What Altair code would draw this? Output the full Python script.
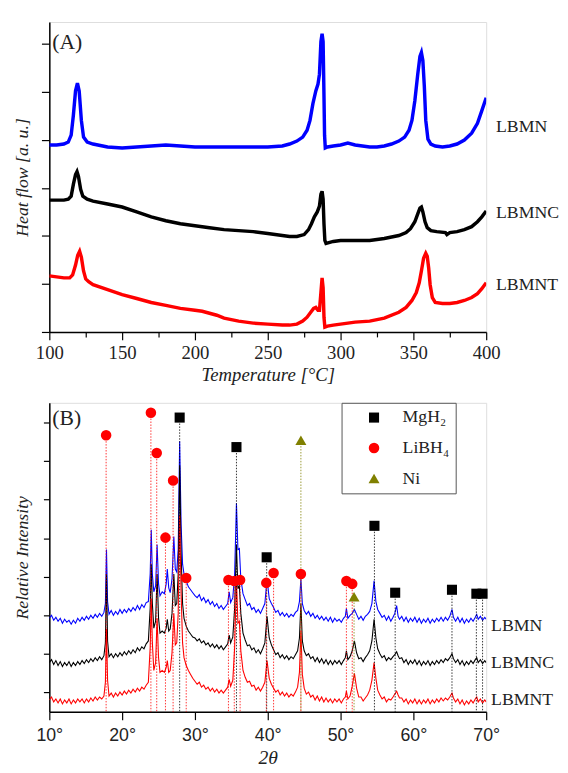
import altair as alt
import pandas as pd

# ---------------- Panel A : DSC curves (temperature °C, heat flow a.u.) ----------------
DSC_LBMN = [(100,190),(105,190),(110,191),(113,193),(115,200),(116.5,220),(118,245),(119.3,253),(120.5,245),
            (122,215),(123.5,198),(126,193),(130,191),(140,188),(150,187),(160,188),(170,189),(180,190),(190,189),
            (200,188),(210,188),(220,188),(230,188),(240,188),(250,188),(260,189),(265,191),(270,194),(274,198),
            (277,205),(279,215),(281,232),(283,245),(284.5,252),(285.5,262),(286.5,295),(287.3,303),(288,295),
            (288.6,240),(289,200),(289.5,187),(291,188),(295,189),(300,190),(305,192),(310,190),(315,189),(320,188),
            (325,188),(330,189),(335,191),(340,194),(344,198),(347,205),(349,215),(351,235),(353,262),(354.5,280),
            (355.5,284),(356.5,276),(357.5,250),(358.5,215),(360,196),(362,191),(365,189),(370,188),(375,189),
            (380,191),(385,195),(390,202),(394,212),(397,225),(400,238)]
DSC_LBMNC = [(100,134),(105,134),(110,134),(113,135),(115,138),(116.5,150),(118,160),(119,163),(120,158),(121.5,145),
             (123,138),(126,135),(130,133),(140,130),(150,127),(160,122),(170,117),(180,113),(190,110),(200,108),
             (210,106),(220,104),(230,103),(240,102),(250,100),(260,98),(265,97),(270,97),(275,99),(278,104),
             (280,110),(282,117),(284,122),(285.5,128),(286.5,140),(287.3,143),(288,135),(288.6,110),(289.2,93),
             (290,90),(295,92),(300,93),(310,93),(320,93),(330,95),(340,98),(345,101),(348,105),(351,112),(353,120),
             (354.5,126),(355.5,127),(356.5,122),(358,112),(359.5,106),(362,103),(366,102),(372,101),(373,99),
             (375,101),(380,102),(385,104),(390,107),(394,112),(397,117),(400,123)]
DSC_LBMNT = [(100,57),(105,56),(110,55),(114,55),(116,58),(118,68),(119.5,78),(120.8,82),(122,76),(123.5,62),
             (125,54),(127,51),(130,48),(140,43),(150,38),(160,34),(170,30),(180,27),(190,24),(200,22),(205,21),
             (210,19),(215,17),(220,14),(230,11),(240,9),(250,8),(260,7),(265,7),(270,8),(274,11),(277,15),
             (279.5,20),(281.5,24),(283,25),(284.5,22),(285.5,22),(286.5,40),(287.3,55),(288,45),(288.6,15),
             (289.2,5),(291,6),(295,7),(300,8),(310,10),(320,11),(330,14),(340,20),(345,25),(349,32),(352,40),
             (354,50),(355.5,62),(357,75),(358.5,80),(359.5,77),(360.5,65),(361.5,48),(363,35),(365,30),(370,29),
             (375,29),(380,30),(385,32),(390,35),(394,39),(397,44),(400,50)]
DSC_NAMES = ["LBMN", "LBMNC", "LBMNT"]
DSC_LABEL_LEVEL = [208, 121, 48]

# ---------------- Panel B : XRD patterns (2θ, relative intensity) ----------------
XRD_LBMN = [(10.0,95),(10.3,98),(10.6,93),(10.9,96),(11.2,92),(11.5,95),(11.8,90),(12.1,94),(12.4,91),(12.7,93),
            (13.0,89),(13.3,93),(13.6,90),(13.9,95),(14.2,92),(14.5,96),(14.8,93),(15.1,97),(15.4,94),(15.7,98),
            (16.0,95),(16.3,99),(16.6,96),(16.9,100),(17.2,97),(17.5,101),(17.7,110),(17.85,165),(18.0,112),
            (18.2,99),(18.5,103),(18.8,98),(19.1,102),(19.4,99),(19.7,104),(20.0,100),(20.3,104),(20.6,101),
            (20.9,105),(21.2,102),(21.5,106),(21.8,103),(22.1,108),(22.4,104),(22.7,109),(23.0,106),(23.3,111),
            (23.6,112),(23.85,140),(24.0,185),(24.15,140),(24.35,122),(24.6,128),(24.8,170),(25.0,130),(25.2,118),
            (25.5,122),(25.8,120),(26.05,130),(26.2,145),(26.4,126),(26.6,121),(26.85,135),(27.1,178),(27.3,145),
            (27.5,142),(27.7,165),(27.9,275),(28.1,190),(28.3,150),(28.5,140),(28.8,133),(29.1,127),(29.4,124),
            (29.7,121),(30.0,118),(30.3,116),(30.6,119),(30.9,113),(31.2,116),(31.5,111),(31.8,114),(32.1,109),
            (32.4,112),(32.7,107),(33.0,110),(33.3,105),(33.6,108),(33.9,104),(34.2,107),(34.5,110),(34.7,122),
            (34.9,111),(35.2,116),(35.45,140),(35.7,212),(35.9,165),(36.1,166),(36.3,135),(36.6,120),(36.9,114),
            (37.2,108),(37.5,110),(37.8,104),(38.1,106),(38.4,101),(38.7,104),(39.0,100),(39.3,105),(39.6,110),
            (39.9,135),(40.2,115),(40.5,110),(40.8,106),(41.1,101),(41.4,103),(41.7,98),(42.0,101),(42.3,97),
            (42.6,100),(42.9,96),(43.2,99),(43.5,97),(43.8,101),(44.1,103),(44.35,112),(44.55,135),(44.75,110),
            (45.0,103),(45.3,99),(45.6,102),(45.9,97),(46.2,100),(46.5,95),(46.8,98),(47.1,94),(47.4,97),(47.7,93),
            (48.0,96),(48.3,92),(48.6,96),(48.9,91),(49.2,95),(49.5,92),(49.8,94),(50.1,91),(50.4,95),(50.65,97),
            (50.8,105),(51.0,95),(51.3,98),(51.6,100),(51.9,104),(52.2,99),(52.5,94),(52.8,97),(53.1,93),(53.4,97),
            (53.7,99),(54.0,102),(54.3,110),(54.6,133),(54.85,112),(55.1,104),(55.4,100),(55.7,96),(56.0,98),
            (56.3,93),(56.6,97),(56.9,92),(57.2,96),(57.45,100),(57.7,108),(57.9,97),(58.1,94),(58.4,97),(58.7,92),
            (59.0,96),(59.3,91),(59.6,95),(59.9,92),(60.2,96),(60.5,91),(60.8,95),(61.1,90),(61.4,94),(61.7,91),
            (62.0,95),(62.3,90),(62.6,94),(62.9,91),(63.2,95),(63.5,92),(63.8,96),(64.1,92),(64.4,96),(64.7,93),
            (65.0,97),(65.3,104),(65.5,96),(65.8,92),(66.1,96),(66.4,91),(66.7,95),(67.0,90),(67.3,94),(67.6,91),
            (67.9,95),(68.2,92),(68.5,96),(68.7,99),(68.9,94),(69.2,97),(69.5,93),(69.8,96),(70.0,94)]
XRD_LBMNC = [(10.0,50),(10.3,53),(10.6,48),(10.9,52),(11.2,47),(11.5,51),(11.8,46),(12.1,50),(12.4,47),(12.7,51),
             (13.0,46),(13.3,50),(13.6,47),(13.9,51),(14.2,48),(14.5,52),(14.8,49),(15.1,53),(15.4,50),(15.7,54),
             (16.0,51),(16.3,55),(16.6,52),(16.9,56),(17.2,53),(17.5,57),(17.7,70),(17.85,140),(18.0,72),(18.2,56),
             (18.5,59),(18.8,55),(19.1,59),(19.4,56),(19.7,60),(20.0,57),(20.3,61),(20.6,58),(20.9,62),(21.2,59),
             (21.5,63),(21.8,60),(22.1,65),(22.4,62),(22.7,66),(23.0,64),(23.3,69),(23.6,72),(23.85,105),(24.0,150),
             (24.15,110),(24.35,85),(24.6,92),(24.8,140),(25.0,95),(25.2,80),(25.5,82),(25.8,80),(26.05,85),
             (26.2,94),(26.4,82),(26.6,84),(26.85,100),(27.1,140),(27.3,108),(27.5,110),(27.7,140),(27.9,250),
             (28.1,160),(28.3,110),(28.5,95),(28.8,87),(29.1,82),(29.4,79),(29.7,76),(30.0,75),(30.3,72),(30.6,74),
             (30.9,70),(31.2,72),(31.5,68),(31.8,70),(32.1,66),(32.4,69),(32.7,65),(33.0,68),(33.3,64),(33.6,67),
             (33.9,63),(34.2,66),(34.5,69),(34.7,78),(34.9,70),(35.2,76),(35.45,105),(35.7,170),(35.9,125),
             (36.1,128),(36.3,100),(36.6,80),(36.9,73),(37.2,67),(37.5,68),(37.8,63),(38.1,65),(38.4,60),(38.7,63),
             (39.0,59),(39.3,64),(39.6,70),(39.9,97),(40.2,75),(40.5,68),(40.8,63),(41.1,58),(41.4,60),(41.7,55),
             (42.0,58),(42.3,54),(42.6,57),(42.9,53),(43.2,56),(43.5,54),(43.8,58),(44.1,62),(44.35,75),(44.55,110),
             (44.75,72),(45.0,62),(45.3,57),(45.6,59),(45.9,54),(46.2,56),(46.5,51),(46.8,55),(47.1,50),(47.4,54),
             (47.7,49),(48.0,53),(48.3,48),(48.6,52),(48.9,48),(49.2,52),(49.5,49),(49.8,52),(50.1,48),(50.4,52),
             (50.65,55),(50.8,62),(51.0,53),(51.3,56),(51.6,62),(51.9,72),(52.2,60),(52.5,54),(52.8,55),(53.1,51),
             (53.4,55),(53.7,58),(54.0,62),(54.3,72),(54.6,94),(54.85,75),(55.1,64),(55.4,59),(55.7,55),(56.0,57),
             (56.3,52),(56.6,55),(56.9,53),(57.2,56),(57.45,58),(57.7,61),(57.9,57),(58.1,54),(58.4,55),(58.7,50),
             (59.0,53),(59.3,48),(59.6,52),(59.9,49),(60.2,53),(60.5,48),(60.8,52),(61.1,47),(61.4,51),(61.7,48),
             (62.0,52),(62.3,47),(62.6,51),(62.9,48),(63.2,52),(63.5,49),(63.8,53),(64.1,50),(64.4,54),(64.7,52),
             (65.0,55),(65.3,59),(65.5,54),(65.8,50),(66.1,53),(66.4,48),(66.7,52),(67.0,47),(67.3,51),(67.6,48),
             (67.9,52),(68.2,49),(68.5,53),(68.7,55),(68.9,50),(69.2,53),(69.5,49),(69.8,52),(70.0,50)]
XRD_LBMNT = [(10.0,12),(10.3,15),(10.6,10),(10.9,13),(11.2,9),(11.5,13),(11.8,8),(12.1,12),(12.4,9),(12.7,13),
             (13.0,8),(13.3,12),(13.6,9),(13.9,13),(14.2,10),(14.5,13),(14.8,9),(15.1,13),(15.4,10),(15.7,14),
             (16.0,11),(16.3,15),(16.6,12),(16.9,15),(17.2,13),(17.5,16),(17.7,30),(17.85,84),(18.0,32),(18.2,16),
             (18.5,19),(18.8,15),(19.1,19),(19.4,16),(19.7,20),(20.0,17),(20.3,21),(20.6,18),(20.9,22),(21.2,19),
             (21.5,23),(21.8,20),(22.1,24),(22.4,21),(22.7,25),(23.0,23),(23.3,27),(23.6,30),(23.85,65),(24.0,115),
             (24.15,70),(24.35,42),(24.6,50),(24.8,95),(25.0,55),(25.2,40),(25.5,42),(25.8,40),(26.05,45),(26.2,52),
             (26.4,40),(26.6,42),(26.85,60),(27.1,100),(27.3,68),(27.5,70),(27.7,100),(27.9,200),(28.1,120),
             (28.3,70),(28.5,55),(28.8,47),(29.1,42),(29.4,38),(29.7,34),(30.0,31),(30.3,28),(30.6,30),(30.9,25),
             (31.2,27),(31.5,23),(31.8,25),(32.1,21),(32.4,24),(32.7,20),(33.0,23),(33.3,19),(33.6,22),(33.9,19),
             (34.2,22),(34.5,25),(34.7,33),(34.9,26),(35.2,32),(35.45,65),(35.7,135),(35.9,90),(36.1,92),(36.3,62),
             (36.6,42),(36.9,35),(37.2,30),(37.5,31),(37.8,26),(38.1,27),(38.4,22),(38.7,25),(39.0,21),(39.3,25),
             (39.6,30),(39.9,52),(40.2,34),(40.5,28),(40.8,24),(41.1,20),(41.4,22),(41.7,17),(42.0,20),(42.3,16),
             (42.6,19),(42.9,15),(43.2,18),(43.5,16),(43.8,20),(44.1,25),(44.35,40),(44.55,82),(44.75,38),(45.0,24),
             (45.3,18),(45.6,20),(45.9,15),(46.2,17),(46.5,12),(46.8,16),(47.1,11),(47.4,15),(47.7,10),(48.0,14),
             (48.3,10),(48.6,13),(48.9,9),(49.2,13),(49.5,10),(49.8,13),(50.1,9),(50.4,13),(50.65,15),(50.8,21),
             (51.0,13),(51.3,16),(51.6,26),(51.9,39),(52.2,24),(52.5,15),(52.8,15),(53.1,11),(53.4,14),(53.7,17),
             (54.0,22),(54.3,32),(54.6,50),(54.85,34),(55.1,22),(55.4,17),(55.7,13),(56.0,15),(56.3,10),(56.6,13),
             (56.9,12),(57.2,15),(57.45,18),(57.7,21),(57.9,17),(58.1,14),(58.4,14),(58.7,10),(59.0,13),(59.3,8),
             (59.6,12),(59.9,9),(60.2,13),(60.5,8),(60.8,12),(61.1,8),(61.4,12),(61.7,9),(62.0,13),(62.3,8),
             (62.6,12),(62.9,9),(63.2,13),(63.5,10),(63.8,14),(64.1,11),(64.4,14),(64.7,12),(65.0,15),(65.3,19),
             (65.5,14),(65.8,10),(66.1,13),(66.4,8),(66.7,12),(67.0,7),(67.3,11),(67.6,8),(67.9,12),(68.2,9),
             (68.5,13),(68.7,15),(68.9,10),(69.2,13),(69.5,9),(69.8,12),(70.0,10)]
XRD_NAMES = ["LBMN", "LBMNC", "LBMNT"]
XRD_LABEL_LEVEL = [87, 50, 12]

# phase reflections (2θ, marker level, phase)
PHASE_ANGLE = [27.9, 35.7, 39.85, 54.65, 57.5, 65.3, 68.65, 69.5,
               17.8, 23.95, 24.75, 25.95, 27.0, 28.8, 34.6, 35.4, 36.2, 39.8, 40.8, 44.55, 50.8, 51.6,
               44.55, 51.85]
PHASE_LEVEL = [299, 269, 157, 189, 121, 124, 120, 120,
               281, 304, 263, 177, 235, 136, 134, 133, 134, 131, 141, 140, 133, 130,
               276, 117]
PHASE_NAME = ["MgH₂"] * 8 + ["LiBH₄"] * 14 + ["Ni"] * 2
PHASES = ["MgH₂", "LiBH₄", "Ni"]
PHASE_COLORS = ["#000000", "#ff0000", "#808000"]
PHASE_SHAPES = ["square", "circle", "triangle-up"]
PHASE_SIZES = [105, 125, 190]

SERIES_COLORS = ["#0000ff", "#000000", "#ff0000"]

SERIF = "Liberation Serif"
SANS = "Liberation Sans"
W, H = 444, 315
HB = 314
GAP = 17

# ---------------- Panel A ----------------
xA = alt.Scale(domain=[100, 400], nice=False, zero=False)
yA = alt.Scale(domain=[0, 315], nice=False, zero=False)
axA_x = alt.Axis(values=list(range(100, 401, 25)), labelExpr="datum.value % 50 == 0 ? datum.label : ''",
                 tickSize={"condition": {"test": "datum.value % 50 == 0", "value": 8}, "value": 5},
                 labelFont=SERIF, labelFontSize=19, labelColor="#222", labelPadding=4, labelFlush=False,
                 title="Temperature [°C]", titleFont=SERIF, titleFontStyle="italic", titleFontSize=19,
                 titleFontWeight="normal", titleColor="#222", titlePadding=3, grid=False,
                 domainColor="black", domainWidth=1.5, tickColor="black", tickWidth=1.2)
axA_y = alt.Axis(values=[round(12.2 * k, 2) for k in range(26)], labels=False,
                 tickSize={"condition": {"test": "round(datum.value / 12.2) % 2 == 0", "value": 8}, "value": 5},
                 title="Heat flow [a. u.]", titleFont=SERIF, titleFontStyle="italic", titleFontSize=18,
                 titleFontWeight="normal", titleColor="#222", titlePadding=10, grid=False,
                 domainColor="black", domainWidth=1.5, tickColor="black", tickWidth=1.2)

layersA = []
for pts, col in zip([DSC_LBMN, DSC_LBMNC, DSC_LBMNT], SERIES_COLORS):
    df = pd.DataFrame(pts, columns=["T", "hf"])
    layersA.append(alt.Chart(df).mark_line(color=col, strokeWidth=3.5, clip=True).encode(
        x=alt.X("T:Q", scale=xA, axis=axA_x), y=alt.Y("hf:Q", scale=yA, axis=axA_y)))

labA = alt.Chart(pd.DataFrame({"name": DSC_NAMES, "level": DSC_LABEL_LEVEL})).mark_text(
    align="left", baseline="middle", font=SERIF, fontSize=18, color="#222").encode(
    x=alt.value(W + 10), y=alt.Y("level:Q", scale=yA), text="name:N")
tagA = alt.Chart(pd.DataFrame({"t": ["(A)"]})).mark_text(
    align="left", baseline="middle", font=SERIF, fontSize=22, color="#222").encode(
    x=alt.value(3), y=alt.value(20), text="t:N")

panelA = alt.layer(*layersA, labA, tagA).properties(width=W, height=H)

# ---------------- Panel B ----------------
xB = alt.Scale(domain=[10, 70], nice=False, zero=False)
yB = alt.Scale(domain=[0, 314], nice=False, zero=False)
axB_x = alt.Axis(values=list(range(10, 71, 5)), labelExpr="datum.value % 10 == 0 ? datum.value + '°' : ''",
                 tickSize={"condition": {"test": "datum.value % 10 == 0", "value": 8}, "value": 5},
                 labelFont=SANS, labelFontSize=18, labelColor="#222", labelPadding=7, labelFlush=False,
                 title="2θ", titleFont=SERIF, titleFontStyle="italic", titleFontSize=20,
                 titleFontWeight="normal", titleColor="#222", titlePadding=4, grid=False,
                 domainColor="black", domainWidth=1.5, tickColor="black", tickWidth=1.2)
axB_y = alt.Axis(values=[round(19.6 * k, 2) for k in range(1, 16)], labels=False, tickSize=6,
                 title="Relative Intensity", titleFont=SERIF, titleFontStyle="italic", titleFontSize=18,
                 titleFontWeight="normal", titleColor="#222", titlePadding=12, grid=False,
                 domainColor="black", domainWidth=1.5, tickColor="black", tickWidth=1.2)

layersB = []
for pts, col in zip([XRD_LBMN, XRD_LBMNC, XRD_LBMNT], SERIES_COLORS):
    df = pd.DataFrame(pts, columns=["a", "i"])
    layersB.append(alt.Chart(df).mark_line(color=col, strokeWidth=1.1, clip=True).encode(
        x=alt.X("a:Q", scale=xB, axis=axB_x), y=alt.Y("i:Q", scale=yB, axis=axB_y)))

phase_df = pd.DataFrame({"a": PHASE_ANGLE, "lvl": PHASE_LEVEL, "phase": PHASE_NAME})
drops = []
for ph, col in zip(PHASES, PHASE_COLORS):
    drops.append(alt.Chart(phase_df).transform_filter(alt.datum.phase == ph).mark_rule(
        color=col, strokeWidth=1, strokeDash=[1.5, 1.5], opacity=0.8).encode(
        x=alt.X("a:Q", scale=xB), y=alt.Y("lvl:Q", scale=yB), y2=alt.datum(0)))

# legend lives in the top-level group of the concatenation: its origin is panel A's plot corner
leg = alt.Legend(orient="none", legendX=297, legendY=H + 70 + 2, title=None,
                 strokeColor="#555", fillColor="white", padding=6,
                 symbolOffset=18, labelOffset=20, labelFont=SERIF,
                 labelFontSize=18, labelColor="#222",
                 rowPadding=13, symbolStrokeWidth=0, symbolOpacity=1)
markers = alt.Chart(phase_df).mark_point(filled=True, opacity=1).encode(
    x=alt.X("a:Q", scale=xB), y=alt.Y("lvl:Q", scale=yB),
    color=alt.Color("phase:N", scale=alt.Scale(domain=PHASES, range=PHASE_COLORS), legend=leg),
    shape=alt.Shape("phase:N", scale=alt.Scale(domain=PHASES, range=PHASE_SHAPES), legend=leg),
    size=alt.Size("phase:N", scale=alt.Scale(domain=PHASES, range=PHASE_SIZES), legend=leg))

labB = alt.Chart(pd.DataFrame({"name": XRD_NAMES, "level": XRD_LABEL_LEVEL})).mark_text(
    align="left", baseline="middle", font=SERIF, fontSize=18, color="#222").encode(
    x=alt.value(W + 5), y=alt.Y("level:Q", scale=yB), text="name:N")
tagB = alt.Chart(pd.DataFrame({"t": ["(B)"]})).mark_text(
    align="left", baseline="middle", font=SERIF, fontSize=22, color="#222").encode(
    x=alt.value(3), y=alt.value(16), text="t:N")

panelB = alt.layer(*layersB, *drops, markers, labB, tagB).properties(width=W, height=HB)

chart = alt.vconcat(panelA, panelB, spacing=GAP).properties(
    padding={"left": 4, "top": 7, "right": 0, "bottom": 0}
).configure_view(stroke="#222", strokeWidth=1.5).configure(background="white")

chart.save("out.html", embed_options={"renderer": "svg", "actions": False})
